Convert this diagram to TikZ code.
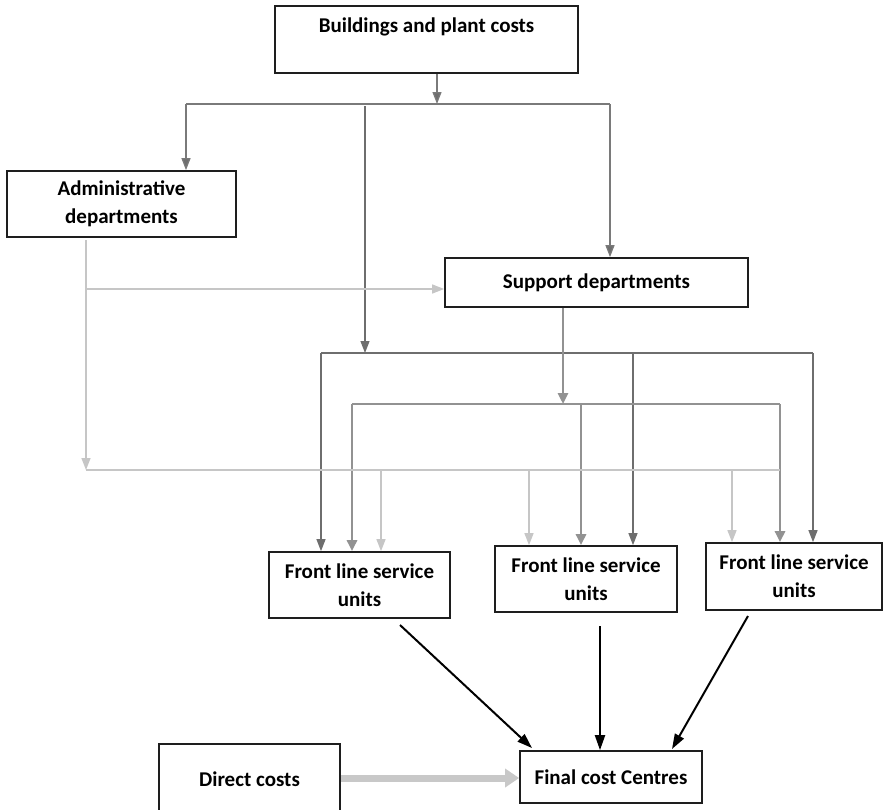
\documentclass[tikz,border=0pt]{standalone}
\usepackage{fontspec}
\setmainfont{Carlito}
\usetikzlibrary{arrows.meta,calc}
\definecolor{lnTop}{HTML}{7A7A7A}
\definecolor{lnDark}{HTML}{6E6E6E}
\definecolor{lnMid}{HTML}{929292}
\definecolor{lnLight}{HTML}{C6C6C6}
\definecolor{lnDirect}{HTML}{C8C8C8}
\definecolor{boxLine}{HTML}{1E1E1E}
\begin{document}
\begin{tikzpicture}[x=1pt,y=-1pt,
  box/.style={draw=boxLine, line width=1.7pt, align=center, inner sep=0pt,
    font=\bfseries\fontsize{21}{28}\selectfont},
  topline/.style={draw=lnTop, line width=1.3pt},
  darkline/.style={draw=lnDark, line width=1.2pt},
  midline/.style={draw=lnMid, line width=2.9pt},
  lightline/.style={draw=lnLight, line width=1.5pt},
  toptip/.style={-{Triangle[length=12pt,width=9pt,fill=lnDark]}},
  darktip/.style={-{Triangle[length=12pt,width=9pt,fill=lnDark]}},
  midtip/.style={-{Triangle[length=11pt,width=10pt,fill=lnMid]}},
  lighttip/.style={-{Triangle[length=12pt,width=9pt,fill=lnLight]}},
  blackarrow/.style={draw=black, line width=2pt, -{Triangle[length=15pt,width=10pt]}},
  directarrow/.style={draw=lnDirect, line width=7pt, -{Triangle[length=14pt,width=18pt]}}
]
\useasboundingbox (0,0) rectangle (883,809);

% boxes
\node[box, minimum width=303pt, minimum height=67pt] (bld) at (426.5,39.5)
  {Buildings and plant costs\\\mbox{}};
\node[box, minimum width=229pt, minimum height=66pt] (adm) at (121.5,204)
  {Administrative\\departments};
\node[box, minimum width=303pt, minimum height=49pt] (sup) at (596.5,282.5)
  {Support departments};
\node[box, minimum width=181pt, minimum height=66pt] (fl1) at (359.5,585)
  {Front line service\\units};
\node[box, minimum width=182pt, minimum height=66pt] (fl2) at (586,579)
  {Front line service\\units};
\node[box, minimum width=176pt, minimum height=67pt] (fl3) at (794,576.5)
  {Front line service\\units};
\node[box, minimum width=182pt, minimum height=52pt] (fin) at (611,777)
  {Final cost Centres};
\node[box, minimum width=181pt, minimum height=70pt] (dir) at (249.5,779)
  {Direct costs};

% buildings and plant costs distribution
\coordinate (bJ) at (437,104);
\coordinate (bL) at (186,104);
\coordinate (bR) at (610,104);
\coordinate (bM) at (365,106);
\draw[topline, toptip] (bld.south -| bJ) -- (bJ);
\draw[topline] (bL) -- (bR);
\draw[topline, toptip] (bL) -- (bL |- adm.north);
\draw[topline, toptip] (bR) -- (bR |- sup.north);

% dark distribution bar
\coordinate (dL) at (321,353);
\coordinate (dR) at (813,353);
\coordinate (dM) at (633,353);
\draw[darkline, darktip] (bM) -- (bM |- dL);
\draw[darkline] (dL) -- (dR);
\draw[darkline, darktip] (dL) -- (dL |- fl1.north);
\draw[darkline, darktip] (dM) -- (dM |- fl2.north);
\draw[darkline, darktip] (dR) -- (dR |- fl3.north);

% support departments distribution bar
\coordinate (sJ) at (563,404);
\coordinate (sL) at (352,404);
\coordinate (sM) at (581,404);
\coordinate (sR) at (780,404);
\draw[midline, midtip] (sup.south -| sJ) -- (sJ);
\draw[midline] (sL) -- (sR);
\draw[midline, midtip] (sL) -- (sL |- fl1.north);
\draw[midline, midtip] (sM) -- (sM |- fl2.north);
\draw[midline, midtip] (sR) -- (sR |- fl3.north);

% administrative departments distribution
\coordinate (aTop) at (86,240);
\coordinate (aBr) at (86,289);
\coordinate (aJ) at (86,470);
\coordinate (aR) at (780,470);
\coordinate (a1) at (381,470);
\coordinate (a2) at (529,470);
\coordinate (a3) at (732,470);
\draw[lightline, lighttip] (aTop) -- (aJ);
\draw[lightline, lighttip] (aBr) -- (aBr -| sup.west);
\draw[lightline] (aJ) -- (aR);
\draw[lightline, lighttip] (a1) -- (a1 |- fl1.north);
\draw[lightline, lighttip] (a2) -- (a2 |- fl2.north);
\draw[lightline, lighttip] (a3) -- (a3 |- fl3.north);

% flows into the final cost centres
\coordinate (f1s) at (400,625);
\coordinate (f1e) at (532,748);
\coordinate (f2s) at (600,626);
\coordinate (f3s) at (748,616);
\coordinate (f3e) at (672,749);
\draw[blackarrow] (f1s) -- (f1e);
\draw[blackarrow] (f2s) -- (f2s |- fin.north);
\draw[blackarrow] (f3s) -- (f3e);
\draw[directarrow] (dir.east |- 0,778) -- (fin.west |- 0,778);
\end{tikzpicture}
\end{document}
